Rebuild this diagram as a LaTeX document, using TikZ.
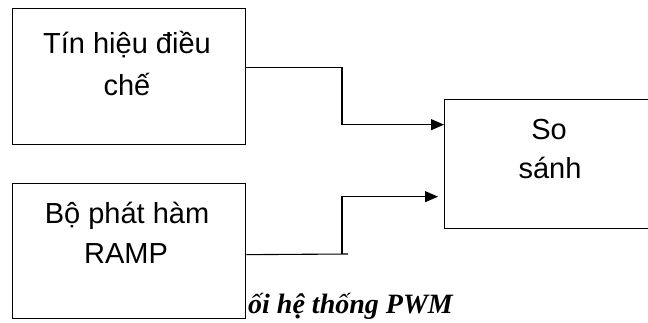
\documentclass[tikz,border=0pt]{standalone}
\usepackage{fontspec}
\setmainfont{Liberation Sans}
\newfontfamily\capfont{Liberation Serif}
\usetikzlibrary{arrows.meta}
\begin{document}
\begin{tikzpicture}[x=1pt,y=-1pt,
  blockbox/.style={draw=black,line width=1.3pt,fill=white,rectangle,inner sep=0pt,anchor=north west},
  boxtext/.style={font=\fontsize{29}{41}\selectfont,anchor=base,inner sep=0pt},
  wire/.style={draw=black,line width=1.1pt},
  arrowwire/.style={wire,-{Triangle[length=13pt,width=11pt]}}]
\useasboundingbox (0,0) rectangle (648,322);
% caption (partly hidden by the lower box)
\node[font=\capfont\bfseries\itshape\fontsize{28}{32}\selectfont,anchor=base east,inner sep=0pt] (cap) at (453,313) {ối hệ thống PWM};
% blocks
\node[blockbox,minimum width=233pt,minimum height=136pt] (mod) at (12,8) {};
\node[blockbox,minimum width=233pt,minimum height=135pt] (ramp) at (12,183) {};
\node[blockbox,minimum width=204pt,minimum height=129pt] (cmp) at (444,99) {};
% texts
\node[boxtext] (t1) at (127,53) {Tín hiệu điều};
\node[boxtext] (t2) at (127,95) {chế};
\node[boxtext] (t3) at (127,223) {Bộ phát hàm};
\node[boxtext] (t4) at (126,263) {RAMP};
\node[boxtext] (t5) at (549,139) {So};
\node[boxtext] (t6) at (550,178) {sánh};
% connectors
\coordinate (c1) at (342,67);
\coordinate (c2) at (348,254);
\coordinate (c3) at (342,254);
\draw[arrowwire] ([yshift=9pt]mod.east) -| (c1) |- ([yshift=39.5pt]cmp.west);
\draw[wire] ([yshift=-3.5pt]ramp.east) -- (c2);
\draw[arrowwire] (c3) |- ([xshift=-6pt,yshift=-32.5pt]cmp.west);
\end{tikzpicture}
\end{document}
